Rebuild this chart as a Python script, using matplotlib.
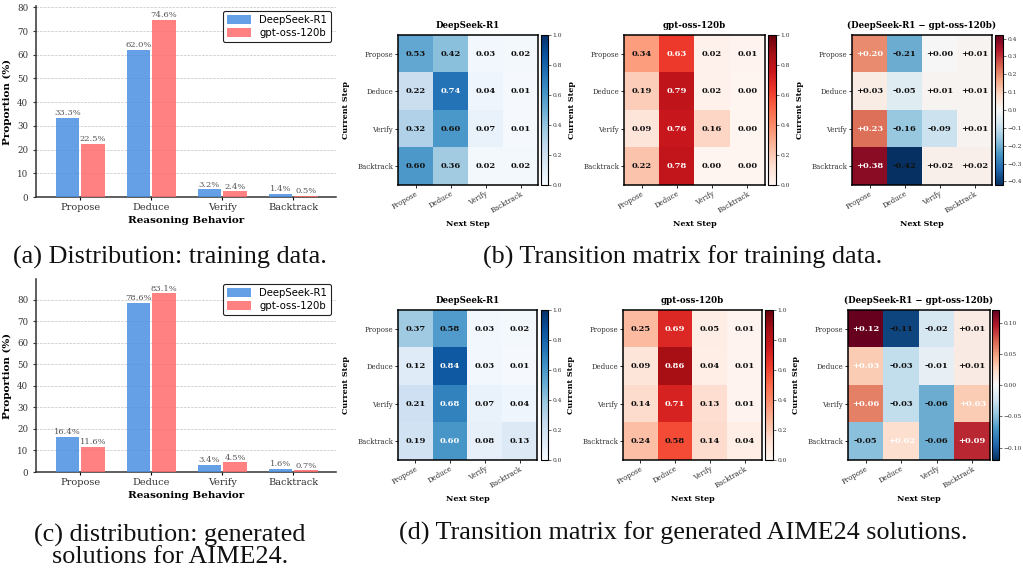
import numpy as np
import matplotlib
matplotlib.use("Agg")
import matplotlib.pyplot as plt

plt.rcParams['font.family'] = 'serif'
plt.rcParams['font.serif'] = ['DejaVu Serif']

behaviors = ['Propose', 'Deduce', 'Verify', 'Backtrack']
models = ['DeepSeek-R1', 'gpt-oss-120b']

# (a) distribution on training data, percent
train_r1 = [33.3, 62.0, 3.2, 1.4]
train_oss = [22.5, 74.6, 2.4, 0.5]
# (c) distribution on generated AIME24 solutions, percent
aime_r1 = [16.4, 78.6, 3.4, 1.6]
aime_oss = [11.6, 83.1, 4.5, 0.7]

# (b) transition matrices, training data (rows: current step, cols: next step)
train_r1_T = [[0.53, 0.42, 0.03, 0.02],
              [0.22, 0.74, 0.04, 0.01],
              [0.32, 0.598, 0.07, 0.01],
              [0.596, 0.36, 0.02, 0.02]]
train_oss_T = [[0.34, 0.63, 0.02, 0.01],
               [0.19, 0.79, 0.02, 0.00],
               [0.09, 0.76, 0.16, 0.00],
               [0.22, 0.78, 0.00, 0.00]]
train_diff = [[0.20, -0.21, 0.00, 0.01],
              [0.03, -0.05, 0.01, 0.01],
              [0.23, -0.16, -0.09, 0.01],
              [0.38, -0.42, 0.02, 0.02]]

# (d) transition matrices, generated AIME24 solutions
aime_r1_T = [[0.37, 0.58, 0.03, 0.02],
             [0.12, 0.84, 0.03, 0.01],
             [0.21, 0.68, 0.07, 0.04],
             [0.19, 0.603, 0.08, 0.13]]
aime_oss_T = [[0.25, 0.69, 0.05, 0.01],
              [0.09, 0.86, 0.04, 0.01],
              [0.14, 0.71, 0.13, 0.01],
              [0.24, 0.58, 0.14, 0.04]]
aime_diff = [[0.12, -0.11, -0.02, 0.01],
             [0.03, -0.03, -0.01, 0.01],
             [0.06, -0.03, -0.06, 0.03],
             [-0.05, 0.02, -0.06, 0.09]]

W, H = 1023, 569
fig = plt.figure(figsize=(W / 100, H / 100), dpi=100)


def px_axes(x0, y0, x1, y1):
    # pixel box (top-left origin) -> figure axes
    return fig.add_axes([x0 / W, 1 - y1 / H, (x1 - x0) / W, (y1 - y0) / H])


def bar_panel(box, r1, oss):
    ax = px_axes(*box)
    x = np.arange(len(behaviors))
    w = 0.33
    b1 = ax.bar(x - 0.18, r1, w, color='#4A90E2', alpha=0.85, label=models[0], zorder=3)
    b2 = ax.bar(x + 0.18, oss, w, color='#FF6B6B', alpha=0.85, label=models[1], zorder=3)
    for bars, vals in ((b1, r1), (b2, oss)):
        for b, v in zip(bars, vals):
            ax.text(b.get_x() + b.get_width() / 2, v + 0.3, f'{v:.1f}%',
                    ha='center', va='bottom', fontsize=6, color='#555555')
    ax.set_xlim(-0.62, 3.6)
    ax.set_ylim(0, max(max(r1), max(oss)) * 1.08)
    ax.set_xticks(x)
    ax.set_xticklabels(behaviors, fontsize=7, color='#333333')
    ax.tick_params(axis='y', labelsize=6.2, colors='#333333', length=2)
    ax.tick_params(axis='x', length=2, pad=2)
    ax.set_ylabel('Proportion (%)', fontsize=7.5, fontweight='bold', labelpad=4)
    ax.set_xlabel('Reasoning Behavior', fontsize=7.5, fontweight='bold', labelpad=3)
    ax.grid(axis='y', linestyle='--', linewidth=0.5, color='#999999', alpha=0.6)
    ax.set_axisbelow(True)
    for s in ('top', 'right'):
        ax.spines[s].set_visible(False)
    for s in ('left', 'bottom'):
        ax.spines[s].set_linewidth(1.1)
        ax.spines[s].set_color('#333333')
    leg = ax.legend(loc='upper right', prop={'family': 'DejaVu Sans', 'size': 7.3},
                    frameon=True, fancybox=True, framealpha=1,
                    handlelength=2.4, handleheight=0.9, borderpad=0.4, labelspacing=0.3)
    leg.get_frame().set_edgecolor('#222222')
    leg.get_frame().set_linewidth(0.8)
    return ax


def heat_panel(box, cbox, data, cmap, title, diff=False):
    ax = px_axes(*box)
    cax = px_axes(*cbox)
    data = np.array(data)
    if diff:
        vmax = np.abs(data).max()
        vmin = -vmax
    else:
        vmin, vmax = 0.0, 1.0
    im = ax.imshow(data, cmap=cmap, vmin=vmin, vmax=vmax, aspect='auto')
    for i in range(data.shape[0]):
        for j in range(data.shape[1]):
            v = data[i, j]
            if diff:
                txt = f'{v:+.2f}'
                col = 'white' if v > 0.15 * vmax else '#111111'
            else:
                txt = f'{v:.2f}'
                col = 'white' if v > 0.6 else '#111111'
            ax.text(j, i, txt, ha='center', va='center', fontsize=6,
                    fontweight='bold', color=col)
    ax.set_xticks(range(len(behaviors)))
    ax.set_yticks(range(len(behaviors)))
    ax.set_xticklabels(behaviors, rotation=30, ha='right', rotation_mode='anchor',
                       fontsize=5, color='#333333')
    ax.set_yticklabels(behaviors, fontsize=5, color='#333333')
    ax.tick_params(length=2, width=0.6, pad=1.5)
    ax.set_title(title, fontsize=6.2, fontweight='bold', pad=5)
    ax.set_ylabel('Current Step', fontsize=5.8, fontweight='bold', labelpad=5)
    ax.set_xlabel('Next Step', fontsize=5.8, fontweight='bold', labelpad=4)
    for s in ax.spines.values():
        s.set_linewidth(1.1)
    cb = fig.colorbar(im, cax=cax)
    cb.ax.tick_params(labelsize=4.3, length=2, width=0.5, pad=1, colors='#333333')
    cb.outline.set_linewidth(0.8)
    return ax


# left column: distributions
bar_panel((36, 6, 336, 197), train_r1, train_oss)
bar_panel((36, 279, 336, 472), aime_r1, aime_oss)

# top row of heatmaps
heat_panel((398, 35, 538, 185), (541, 35, 548, 185), train_r1_T, 'Blues', 'DeepSeek-R1')
heat_panel((624, 35, 765, 185), (768, 35, 776, 185), train_oss_T, 'Reds', 'gpt-oss-120b')
heat_panel((852, 35, 992, 185), (995, 35, 1003, 185), train_diff, 'RdBu_r',
           '(DeepSeek-R1 \u2212 gpt-oss-120b)', diff=True)

# bottom row of heatmaps
heat_panel((398, 310, 537, 460), (541, 310, 548, 460), aime_r1_T, 'Blues', 'DeepSeek-R1')
heat_panel((623, 310, 762, 460), (765, 310, 773, 460), aime_oss_T, 'Reds', 'gpt-oss-120b')
heat_panel((848, 310, 990, 460), (992, 310, 999, 460), aime_diff, 'RdBu_r',
           '(DeepSeek-R1 \u2212 gpt-oss-120b)', diff=True)

cap = dict(ha='center', va='center', fontsize=18.8, family='Liberation Serif', color='#111111')
fig.text(170 / W, 1 - 257 / H, '(a) Distribution: training data.', **cap)
fig.text(683 / W, 1 - 257 / H, '(b) Transition matrix for training data.', **cap)
fig.text(170 / W, 1 - 546 / H, '(c) distribution: generated\nsolutions for AIME24.',
         linespacing=0.95, **cap)
fig.text(683 / W, 1 - 533 / H, '(d) Transition matrix for generated AIME24 solutions.', **cap)

fig.savefig('out.png', dpi=100)
